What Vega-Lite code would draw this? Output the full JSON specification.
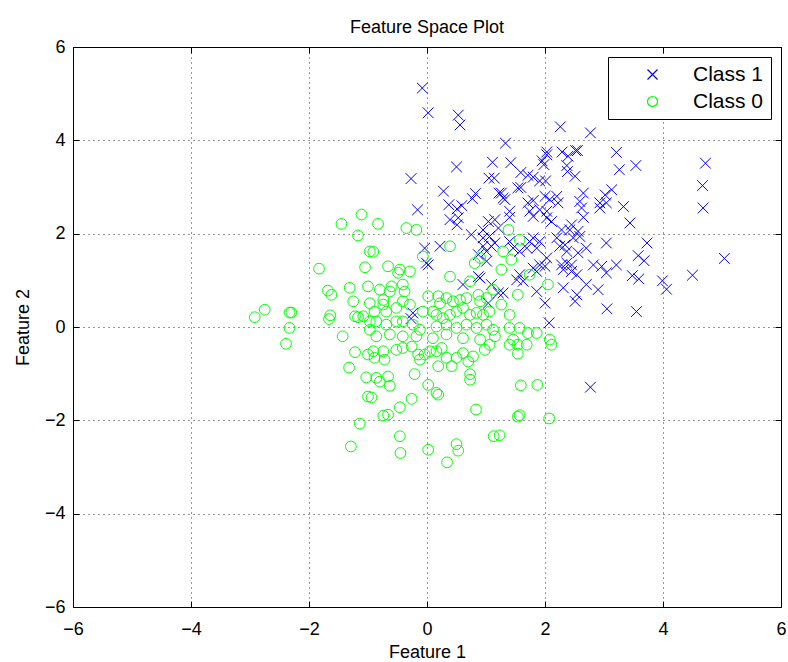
{
  "$schema": "https://vega.github.io/schema/vega-lite/v6.json",
  "width": 708,
  "height": 560,
  "autosize": {"type": "none"},
  "padding": {"left": 73, "top": 47, "right": 7, "bottom": 55},
  "background": "white",
  "title": {"text": "Feature Space Plot", "font": "Liberation Sans", "fontSize": 18, "fontWeight": "normal", "color": "black", "offset": 1},
  "config": {
    "view": {"stroke": "black", "strokeWidth": 1},
    "axis": {
      "labelFont": "Liberation Sans", "labelFontSize": 18, "labelColor": "black",
      "titleFont": "Liberation Sans", "titleFontSize": 18, "titleFontWeight": "normal", "titleColor": "black",
      "grid": true, "gridColor": "black", "gridDash": [1, 4], "gridOpacity": 0.8,
      "domain": false, "tickColor": "black", "tickSize": -6, "labelFlush": false
    },
    "axisX": {"labelPadding": 19},
    "axisY": {"labelPadding": 14},
    "legend": {
      "orient": "top-right", "offset": 10, "strokeColor": "black", "fillColor": "white", "padding": 7,
      "labelFont": "Liberation Sans", "labelFontSize": 21, "labelColor": "black",
      "symbolStrokeWidth": 1.2, "rowPadding": 5, "symbolOffset": 27, "labelOffset": 30, "cornerRadius": 0
    }
  },
  "data": {"values": [
    {"x":-0.08,"y":5.12,"c":"Class 1"},{"x":0.02,"y":4.59,"c":"Class 1"},{"x":0.53,"y":4.54,"c":"Class 1"},{"x":0.56,"y":4.33,"c":"Class 1"},{"x":1.11,"y":3.53,"c":"Class 1"},{"x":0.50,"y":3.43,"c":"Class 1"},{"x":-0.27,"y":3.18,"c":"Class 1"},{"x":1.05,"y":3.19,"c":"Class 1"},{"x":1.14,"y":3.19,"c":"Class 1"},{"x":0.28,"y":2.91,"c":"Class 1"},
    {"x":0.82,"y":2.86,"c":"Class 1"},{"x":0.77,"y":2.75,"c":"Class 1"},{"x":0.37,"y":2.62,"c":"Class 1"},{"x":0.59,"y":2.60,"c":"Class 1"},{"x":0.51,"y":2.53,"c":"Class 1"},{"x":-0.16,"y":2.51,"c":"Class 1"},{"x":1.22,"y":2.87,"c":"Class 1"},{"x":2.26,"y":4.29,"c":"Class 1"},{"x":2.77,"y":4.16,"c":"Class 1"},{"x":1.33,"y":3.94,"c":"Class 1"},
    {"x":2.03,"y":3.75,"c":"Class 1"},{"x":2.03,"y":3.69,"c":"Class 1"},{"x":2.29,"y":3.75,"c":"Class 1"},{"x":2.52,"y":3.78,"c":"Class 1"},{"x":2.55,"y":3.78,"c":"Class 1"},{"x":2.39,"y":3.66,"c":"Class 1"},{"x":3.21,"y":3.74,"c":"Class 1"},{"x":1.42,"y":3.52,"c":"Class 1"},{"x":1.95,"y":3.56,"c":"Class 1"},{"x":1.98,"y":3.48,"c":"Class 1"},
    {"x":2.37,"y":3.46,"c":"Class 1"},{"x":3.26,"y":3.37,"c":"Class 1"},{"x":1.59,"y":3.31,"c":"Class 1"},{"x":2.38,"y":3.33,"c":"Class 1"},{"x":2.51,"y":3.23,"c":"Class 1"},{"x":1.71,"y":3.25,"c":"Class 1"},{"x":1.80,"y":3.21,"c":"Class 1"},{"x":1.91,"y":3.13,"c":"Class 1"},{"x":2.01,"y":3.13,"c":"Class 1"},{"x":1.54,"y":2.98,"c":"Class 1"},
    {"x":1.59,"y":2.99,"c":"Class 1"},{"x":1.26,"y":2.87,"c":"Class 1"},{"x":1.32,"y":2.73,"c":"Class 1"},{"x":1.29,"y":2.76,"c":"Class 1"},{"x":2.00,"y":2.80,"c":"Class 1"},{"x":2.08,"y":2.73,"c":"Class 1"},{"x":2.20,"y":2.80,"c":"Class 1"},{"x":2.22,"y":2.66,"c":"Class 1"},{"x":1.71,"y":2.66,"c":"Class 1"},{"x":1.80,"y":2.71,"c":"Class 1"},
    {"x":2.65,"y":2.87,"c":"Class 1"},{"x":2.59,"y":2.69,"c":"Class 1"},{"x":2.62,"y":2.55,"c":"Class 1"},{"x":3.13,"y":2.94,"c":"Class 1"},{"x":3.02,"y":2.83,"c":"Class 1"},{"x":2.93,"y":2.66,"c":"Class 1"},{"x":3.04,"y":2.66,"c":"Class 1"},{"x":2.93,"y":2.55,"c":"Class 1"},{"x":3.33,"y":2.58,"c":"Class 1"},{"x":1.91,"y":2.51,"c":"Class 1"},
    {"x":2.03,"y":2.48,"c":"Class 1"},{"x":1.40,"y":2.48,"c":"Class 1"},{"x":1.74,"y":2.48,"c":"Class 1"},{"x":3.54,"y":3.46,"c":"Class 1"},{"x":4.72,"y":3.51,"c":"Class 1"},{"x":4.67,"y":3.03,"c":"Class 1"},{"x":4.68,"y":2.55,"c":"Class 1"},{"x":3.73,"y":1.80,"c":"Class 1"},{"x":3.58,"y":1.53,"c":"Class 1"},{"x":3.68,"y":1.42,"c":"Class 1"},
    {"x":5.04,"y":1.47,"c":"Class 1"},{"x":3.48,"y":1.10,"c":"Class 1"},{"x":3.59,"y":1.03,"c":"Class 1"},{"x":3.99,"y":0.99,"c":"Class 1"},{"x":4.06,"y":0.81,"c":"Class 1"},{"x":4.50,"y":1.11,"c":"Class 1"},{"x":3.55,"y":0.33,"c":"Class 1"},{"x":3.44,"y":2.23,"c":"Class 1"},{"x":2.77,"y":-1.29,"c":"Class 1"},{"x":3.05,"y":0.39,"c":"Class 1"},
    {"x":1.40,"y":2.35,"c":"Class 1"},{"x":1.80,"y":2.37,"c":"Class 1"},{"x":2.03,"y":2.34,"c":"Class 1"},{"x":2.11,"y":2.26,"c":"Class 1"},{"x":2.65,"y":2.35,"c":"Class 1"},{"x":2.45,"y":2.19,"c":"Class 1"},{"x":2.42,"y":2.08,"c":"Class 1"},{"x":2.56,"y":2.05,"c":"Class 1"},{"x":2.59,"y":1.94,"c":"Class 1"},{"x":2.48,"y":1.91,"c":"Class 1"},
    {"x":2.28,"y":2.08,"c":"Class 1"},{"x":3.04,"y":1.80,"c":"Class 1"},{"x":1.80,"y":1.91,"c":"Class 1"},{"x":1.74,"y":1.83,"c":"Class 1"},{"x":1.91,"y":1.83,"c":"Class 1"},{"x":1.69,"y":1.69,"c":"Class 1"},{"x":1.86,"y":1.69,"c":"Class 1"},{"x":1.57,"y":1.62,"c":"Class 1"},{"x":1.46,"y":1.69,"c":"Class 1"},{"x":1.40,"y":1.83,"c":"Class 1"},
    {"x":2.20,"y":1.91,"c":"Class 1"},{"x":2.25,"y":1.73,"c":"Class 1"},{"x":2.34,"y":1.76,"c":"Class 1"},{"x":2.37,"y":1.62,"c":"Class 1"},{"x":2.70,"y":1.69,"c":"Class 1"},{"x":2.56,"y":1.59,"c":"Class 1"},{"x":2.03,"y":1.48,"c":"Class 1"},{"x":1.91,"y":1.33,"c":"Class 1"},{"x":2.00,"y":1.30,"c":"Class 1"},{"x":1.80,"y":1.26,"c":"Class 1"},
    {"x":1.86,"y":1.19,"c":"Class 1"},{"x":2.28,"y":1.33,"c":"Class 1"},{"x":2.37,"y":1.37,"c":"Class 1"},{"x":2.45,"y":1.33,"c":"Class 1"},{"x":2.31,"y":1.23,"c":"Class 1"},{"x":2.45,"y":1.19,"c":"Class 1"},{"x":2.54,"y":1.12,"c":"Class 1"},{"x":2.82,"y":1.33,"c":"Class 1"},{"x":2.96,"y":1.30,"c":"Class 1"},{"x":3.04,"y":1.16,"c":"Class 1"},
    {"x":1.57,"y":1.12,"c":"Class 1"},{"x":1.63,"y":0.98,"c":"Class 1"},{"x":1.52,"y":1.01,"c":"Class 1"},{"x":2.31,"y":0.84,"c":"Class 1"},{"x":2.54,"y":0.69,"c":"Class 1"},{"x":2.70,"y":0.91,"c":"Class 1"},{"x":2.90,"y":0.80,"c":"Class 1"},{"x":2.51,"y":0.55,"c":"Class 1"},{"x":2.00,"y":0.51,"c":"Class 1"},{"x":2.07,"y":0.09,"c":"Class 1"},
    {"x":1.29,"y":0.73,"c":"Class 1"},{"x":1.86,"y":0.76,"c":"Class 1"},{"x":3.21,"y":1.33,"c":"Class 1"},{"x":0.39,"y":2.30,"c":"Class 1"},{"x":0.53,"y":2.34,"c":"Class 1"},{"x":0.51,"y":2.19,"c":"Class 1"},{"x":1.04,"y":2.26,"c":"Class 1"},{"x":1.15,"y":2.30,"c":"Class 1"},{"x":0.75,"y":1.98,"c":"Class 1"},{"x":0.95,"y":2.08,"c":"Class 1"},
    {"x":0.95,"y":1.91,"c":"Class 1"},{"x":1.06,"y":1.94,"c":"Class 1"},{"x":1.21,"y":2.12,"c":"Class 1"},{"x":1.15,"y":1.80,"c":"Class 1"},{"x":0.22,"y":1.73,"c":"Class 1"},{"x":-0.04,"y":1.69,"c":"Class 1"},{"x":-0.01,"y":1.37,"c":"Class 1"},{"x":0.02,"y":1.33,"c":"Class 1"},{"x":0.95,"y":1.73,"c":"Class 1"},{"x":1.01,"y":1.62,"c":"Class 1"},
    {"x":1.09,"y":1.73,"c":"Class 1"},{"x":0.87,"y":1.55,"c":"Class 1"},{"x":1.01,"y":1.41,"c":"Class 1"},{"x":0.90,"y":1.05,"c":"Class 1"},{"x":0.87,"y":1.08,"c":"Class 1"},{"x":0.61,"y":0.91,"c":"Class 1"},{"x":1.09,"y":0.91,"c":"Class 1"},{"x":1.04,"y":0.51,"c":"Class 1"},{"x":-0.24,"y":0.30,"c":"Class 1"},{"x":-0.27,"y":0.18,"c":"Class 1"},
    {"x":1.21,"y":0.73,"c":"Class 1"},
    {"x":-1.45,"y":2.21,"c":"Class 0"},{"x":-1.11,"y":2.41,"c":"Class 0"},{"x":-1.17,"y":1.96,"c":"Class 0"},{"x":-0.97,"y":1.62,"c":"Class 0"},{"x":-1.83,"y":1.25,"c":"Class 0"},{"x":-1.05,"y":1.28,"c":"Class 0"},{"x":-1.00,"y":0.87,"c":"Class 0"},{"x":-1.68,"y":0.78,"c":"Class 0"},{"x":-1.62,"y":0.69,"c":"Class 0"},{"x":-1.31,"y":0.84,"c":"Class 0"},
    {"x":-1.25,"y":0.55,"c":"Class 0"},{"x":-1.64,"y":0.25,"c":"Class 0"},{"x":-2.92,"y":0.21,"c":"Class 0"},{"x":-2.75,"y":0.37,"c":"Class 0"},{"x":-2.33,"y":0.31,"c":"Class 0"},{"x":-2.30,"y":0.31,"c":"Class 0"},{"x":-1.66,"y":0.17,"c":"Class 0"},{"x":-1.22,"y":0.23,"c":"Class 0"},{"x":-1.17,"y":0.21,"c":"Class 0"},{"x":-1.08,"y":0.23,"c":"Class 0"},
    {"x":-0.97,"y":0.12,"c":"Class 0"},{"x":-2.33,"y":-0.02,"c":"Class 0"},{"x":-1.43,"y":-0.20,"c":"Class 0"},{"x":-2.39,"y":-0.36,"c":"Class 0"},{"x":-0.97,"y":-0.06,"c":"Class 0"},{"x":-1.22,"y":-0.54,"c":"Class 0"},{"x":-1.00,"y":-0.59,"c":"Class 0"},{"x":-1.32,"y":-0.87,"c":"Class 0"},{"x":-1.03,"y":-1.08,"c":"Class 0"},{"x":-1.00,"y":-1.49,"c":"Class 0"},
    {"x":-1.14,"y":-2.07,"c":"Class 0"},{"x":-1.29,"y":-2.56,"c":"Class 0"},{"x":-0.91,"y":-0.52,"c":"Class 0"},{"x":-0.74,"y":-0.52,"c":"Class 0"},{"x":-0.89,"y":-0.66,"c":"Class 0"},{"x":-0.72,"y":-0.70,"c":"Class 0"},{"x":-0.52,"y":-0.49,"c":"Class 0"},{"x":-0.41,"y":-0.45,"c":"Class 0"},{"x":-0.26,"y":-0.42,"c":"Class 0"},{"x":-0.15,"y":-0.59,"c":"Class 0"},
    {"x":-0.12,"y":-0.70,"c":"Class 0"},{"x":-0.04,"y":-0.59,"c":"Class 0"},{"x":0.05,"y":-0.52,"c":"Class 0"},{"x":0.16,"y":-0.52,"c":"Class 0"},{"x":0.25,"y":-0.45,"c":"Class 0"},{"x":0.19,"y":-0.84,"c":"Class 0"},{"x":0.33,"y":-0.66,"c":"Class 0"},{"x":0.42,"y":-0.84,"c":"Class 0"},{"x":0.50,"y":-0.66,"c":"Class 0"},{"x":0.61,"y":-0.56,"c":"Class 0"},
    {"x":0.70,"y":-0.74,"c":"Class 0"},{"x":0.78,"y":-0.63,"c":"Class 0"},{"x":0.98,"y":-0.49,"c":"Class 0"},{"x":-0.21,"y":-1.01,"c":"Class 0"},{"x":-0.86,"y":-1.09,"c":"Class 0"},{"x":-0.80,"y":-1.17,"c":"Class 0"},{"x":-0.66,"y":-1.06,"c":"Class 0"},{"x":-0.63,"y":-1.26,"c":"Class 0"},{"x":0.73,"y":-1.01,"c":"Class 0"},{"x":0.73,"y":-1.13,"c":"Class 0"},
    {"x":0.02,"y":-1.24,"c":"Class 0"},{"x":0.16,"y":-1.41,"c":"Class 0"},{"x":0.19,"y":-1.45,"c":"Class 0"},{"x":-0.94,"y":-1.51,"c":"Class 0"},{"x":-0.26,"y":-1.54,"c":"Class 0"},{"x":-0.46,"y":-1.72,"c":"Class 0"},{"x":-0.74,"y":-1.90,"c":"Class 0"},{"x":-0.66,"y":-1.88,"c":"Class 0"},{"x":0.83,"y":-1.77,"c":"Class 0"},{"x":-0.46,"y":-2.34,"c":"Class 0"},
    {"x":1.13,"y":-2.34,"c":"Class 0"},{"x":-0.45,"y":-2.70,"c":"Class 0"},{"x":0.02,"y":-2.63,"c":"Class 0"},{"x":0.50,"y":-2.51,"c":"Class 0"},{"x":0.53,"y":-2.65,"c":"Class 0"},{"x":0.34,"y":-2.90,"c":"Class 0"},{"x":1.40,"y":-0.38,"c":"Class 0"},{"x":1.54,"y":-0.38,"c":"Class 0"},{"x":1.69,"y":-0.38,"c":"Class 0"},{"x":1.54,"y":-0.57,"c":"Class 0"},
    {"x":2.11,"y":-0.38,"c":"Class 0"},{"x":1.59,"y":-1.25,"c":"Class 0"},{"x":1.87,"y":-1.24,"c":"Class 0"},{"x":1.54,"y":-1.92,"c":"Class 0"},{"x":1.57,"y":-1.89,"c":"Class 0"},{"x":2.07,"y":-1.96,"c":"Class 0"},{"x":1.23,"y":-2.32,"c":"Class 0"},{"x":-0.83,"y":2.21,"c":"Class 0"},{"x":-0.35,"y":2.12,"c":"Class 0"},{"x":-0.18,"y":2.08,"c":"Class 0"},
    {"x":-0.91,"y":1.61,"c":"Class 0"},{"x":0.39,"y":1.73,"c":"Class 0"},{"x":-0.07,"y":1.51,"c":"Class 0"},{"x":-0.66,"y":1.30,"c":"Class 0"},{"x":-0.46,"y":1.23,"c":"Class 0"},{"x":-0.49,"y":1.16,"c":"Class 0"},{"x":-0.29,"y":1.19,"c":"Class 0"},{"x":0.39,"y":1.08,"c":"Class 0"},{"x":0.90,"y":1.48,"c":"Class 0"},{"x":0.81,"y":1.37,"c":"Class 0"},
    {"x":-0.80,"y":0.80,"c":"Class 0"},{"x":-0.63,"y":0.76,"c":"Class 0"},{"x":-0.60,"y":0.87,"c":"Class 0"},{"x":-0.41,"y":0.91,"c":"Class 0"},{"x":-0.38,"y":0.76,"c":"Class 0"},{"x":0.02,"y":0.66,"c":"Class 0"},{"x":0.19,"y":0.66,"c":"Class 0"},{"x":0.22,"y":0.51,"c":"Class 0"},{"x":0.33,"y":0.62,"c":"Class 0"},{"x":0.44,"y":0.55,"c":"Class 0"},
    {"x":0.56,"y":0.58,"c":"Class 0"},{"x":0.67,"y":0.62,"c":"Class 0"},{"x":0.87,"y":0.69,"c":"Class 0"},{"x":0.90,"y":0.55,"c":"Class 0"},{"x":1.01,"y":0.62,"c":"Class 0"},{"x":-0.97,"y":0.51,"c":"Class 0"},{"x":-0.74,"y":0.58,"c":"Class 0"},{"x":-0.74,"y":0.48,"c":"Class 0"},{"x":-0.89,"y":0.33,"c":"Class 0"},{"x":-0.69,"y":0.33,"c":"Class 0"},
    {"x":-0.52,"y":0.41,"c":"Class 0"},{"x":-0.41,"y":0.55,"c":"Class 0"},{"x":-0.29,"y":0.48,"c":"Class 0"},{"x":-0.07,"y":0.33,"c":"Class 0"},{"x":0.10,"y":0.33,"c":"Class 0"},{"x":0.16,"y":0.26,"c":"Class 0"},{"x":0.27,"y":0.19,"c":"Class 0"},{"x":0.39,"y":0.26,"c":"Class 0"},{"x":0.50,"y":0.33,"c":"Class 0"},{"x":0.61,"y":0.41,"c":"Class 0"},
    {"x":0.73,"y":0.26,"c":"Class 0"},{"x":0.84,"y":0.30,"c":"Class 0"},{"x":0.95,"y":0.26,"c":"Class 0"},{"x":1.06,"y":0.33,"c":"Class 0"},{"x":-0.86,"y":0.12,"c":"Class 0"},{"x":-0.69,"y":0.05,"c":"Class 0"},{"x":-0.52,"y":0.12,"c":"Class 0"},{"x":-0.41,"y":0.12,"c":"Class 0"},{"x":-0.24,"y":0.05,"c":"Class 0"},{"x":-0.12,"y":-0.06,"c":"Class 0"},
    {"x":0.16,"y":0.01,"c":"Class 0"},{"x":0.33,"y":0.05,"c":"Class 0"},{"x":0.50,"y":-0.02,"c":"Class 0"},{"x":0.67,"y":0.05,"c":"Class 0"},{"x":0.84,"y":-0.02,"c":"Class 0"},{"x":1.01,"y":0.05,"c":"Class 0"},{"x":1.12,"y":-0.06,"c":"Class 0"},{"x":-0.86,"y":-0.20,"c":"Class 0"},{"x":-0.63,"y":-0.16,"c":"Class 0"},{"x":-0.41,"y":-0.20,"c":"Class 0"},
    {"x":-0.18,"y":-0.20,"c":"Class 0"},{"x":0.10,"y":-0.24,"c":"Class 0"},{"x":0.33,"y":-0.16,"c":"Class 0"},{"x":0.61,"y":-0.24,"c":"Class 0"},{"x":0.90,"y":-0.27,"c":"Class 0"},{"x":1.15,"y":-0.20,"c":"Class 0"},{"x":1.38,"y":2.08,"c":"Class 0"},{"x":1.57,"y":1.87,"c":"Class 0"},{"x":1.29,"y":1.62,"c":"Class 0"},{"x":1.43,"y":1.44,"c":"Class 0"},
    {"x":1.26,"y":1.23,"c":"Class 0"},{"x":1.74,"y":1.12,"c":"Class 0"},{"x":2.05,"y":0.91,"c":"Class 0"},{"x":1.54,"y":0.69,"c":"Class 0"},{"x":1.26,"y":0.48,"c":"Class 0"},{"x":1.40,"y":0.26,"c":"Class 0"},{"x":1.40,"y":-0.02,"c":"Class 0"},{"x":1.57,"y":-0.02,"c":"Class 0"},{"x":1.71,"y":-0.13,"c":"Class 0"},{"x":1.86,"y":-0.13,"c":"Class 0"},
    {"x":1.46,"y":-0.27,"c":"Class 0"},{"x":2.08,"y":-0.27,"c":"Class 0"},{"x":0.73,"y":0.98,"c":"Class 0"},{"x":1.12,"y":0.80,"c":"Class 0"},{"x":1.06,"y":-0.38,"c":"Class 0"}
  ]},
  "layer": [
    {
      "mark": {"type": "point", "filled": false, "strokeWidth": 1, "size": 115, "opacity": 1},
      "encoding": {
        "x": {"field": "x", "type": "quantitative", "scale": {"domain": [-6, 6], "nice": false, "zero": false},
              "axis": {"title": "Feature 1", "values": [-6, -4, -2, 0, 2, 4, 6], "titlePadding": 5}},
        "y": {"field": "y", "type": "quantitative", "scale": {"domain": [-6, 6], "nice": false, "zero": false},
              "axis": {"title": "Feature 2", "values": [-6, -4, -2, 0, 2, 4, 6], "titlePadding": 12}},
        "color": {"field": "c", "type": "nominal", "title": null,
                  "scale": {"domain": ["Class 1", "Class 0"], "range": ["#0000ff", "#00ff00"]}},
        "shape": {"field": "c", "type": "nominal", "title": null,
                  "scale": {"domain": ["Class 1", "Class 0"], "range": ["M-1,-1L1,1M-1,1L1,-1", "circle"]}}
      }
    },
    {
      "mark": {"type": "point", "opacity": 0},
      "encoding": {
        "x": {"field": "x", "type": "quantitative", "axis": {"orient": "top", "labels": false, "grid": false, "title": null, "values": [-6, -4, -2, 0, 2, 4, 6]}},
        "y": {"field": "y", "type": "quantitative", "axis": {"orient": "right", "labels": false, "grid": false, "title": null, "values": [-6, -4, -2, 0, 2, 4, 6]}}
      }
    }
  ],
  "resolve": {"axis": {"x": "independent", "y": "independent"}}
}
